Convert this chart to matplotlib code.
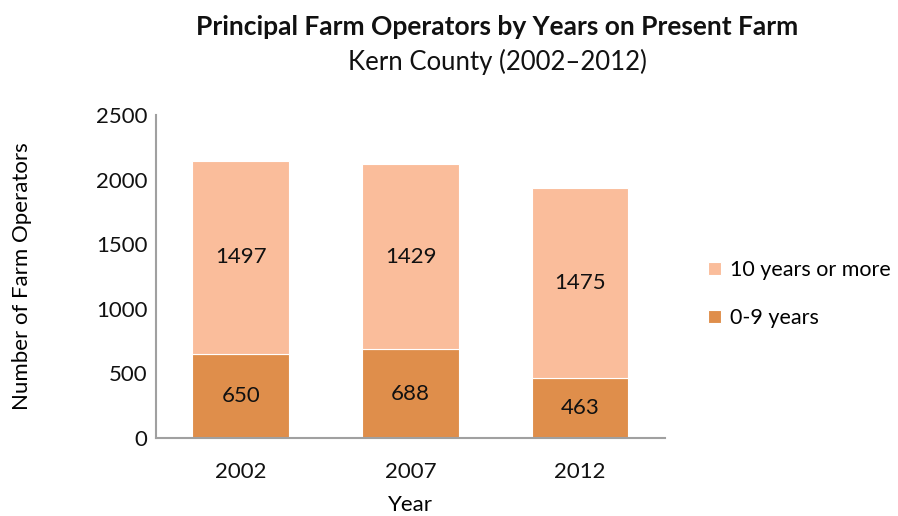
import matplotlib
matplotlib.use("Agg")
import matplotlib.pyplot as plt
import numpy as np

plt.rcParams['font.family'] = ['Lato', 'DejaVu Sans']

years = ["2002", "2007", "2012"]
short_tenure = [650, 688, 463]      # 0-9 years
long_tenure = [1497, 1429, 1475]    # 10 years or more
yticks = [0, 500, 1000, 1500, 2000, 2500]

c_short = "#DF8E4B"
c_long = "#FABD9B"

fig = plt.figure(figsize=(8.98, 5.16), dpi=100)
ax = fig.add_axes([0.1737, 0.1512, 0.5668, 0.6259])

x = np.arange(len(years))
w = 0.57
b1 = ax.bar(x, short_tenure, width=w, color=c_short, edgecolor="white", linewidth=0.8, label="0-9 years")
b2 = ax.bar(x, long_tenure, width=w, bottom=short_tenure, color=c_long, edgecolor="white", linewidth=0.8, label="10 years or more")

fs = 16
for xi, s, l in zip(x, short_tenure, long_tenure):
    ax.text(xi, s / 2, f"{s}", ha="center", va="center", fontsize=fs, color="#111111")
    ax.text(xi, s + l / 2, f"{l}", ha="center", va="center", fontsize=fs, color="#111111")

ax.set_xlim(-0.5, 2.5)
ax.set_ylim(0, 2500)
ax.set_yticks(yticks)
ax.set_xticks(x)
ax.set_xticklabels(years)
ax.tick_params(axis="both", length=0, labelsize=fs, colors="#111111")
ax.tick_params(axis="y", pad=6)
ax.tick_params(axis="x", pad=17)
for side in ["top", "right"]:
    ax.spines[side].set_visible(False)
for side in ["left", "bottom"]:
    ax.spines[side].set_color("#A0A0A0")
    ax.spines[side].set_linewidth(1.5)

ax.set_xlabel("Year", fontsize=fs, labelpad=10)
ax.set_ylabel("Number of Farm Operators", fontsize=fs, labelpad=46)

handles = [b2, b1]
fig.legend(handles, [h.get_label() for h in handles], loc="center left",
           bbox_to_anchor=(0.788, 0.43), frameon=False, fontsize=15.5,
           handlelength=0.6, handleheight=0.6, handletextpad=0.45, labelspacing=1.3,
           borderaxespad=0, borderpad=0)

fig.text(0.554, 0.947, "Principal Farm Operators by Years on Present Farm",
         ha="center", va="center", fontsize=19, fontweight="bold", color="#111111")
fig.text(0.554, 0.880, "Kern County (2002\u20132012)",
         ha="center", va="center", fontsize=18.5, color="#111111")

fig.savefig("out.png", dpi=100)
